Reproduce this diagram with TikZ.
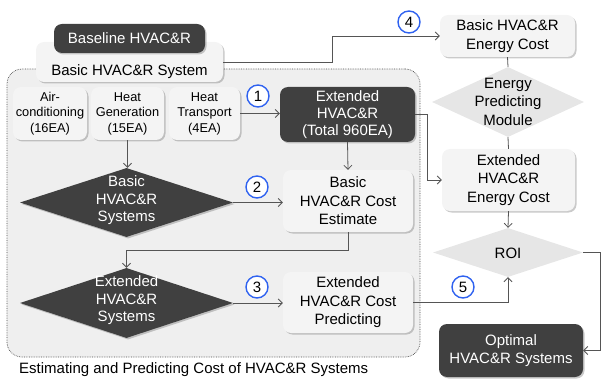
\documentclass[tikz,border=0pt]{standalone}
\usepackage{fontspec}
\setmainfont{Liberation Sans}
\usetikzlibrary{arrows.meta,shapes.geometric,shadows}
\definecolor{darkbox}{HTML}{404040}
\definecolor{lightbox}{HTML}{F4F4F4}
\definecolor{contfill}{HTML}{EFEFEF}
\definecolor{diamlight}{HTML}{E6E6E6}
\definecolor{linec}{HTML}{555555}
\definecolor{numblue}{HTML}{2F62F0}
\newcommand{\mainf}{\fontsize{15}{18.5}\selectfont}
\newcommand{\smallf}{\fontsize{12.8}{15.5}\selectfont}
\tikzset{
  shade/.style={drop shadow={shadow xshift=1.5pt,shadow yshift=-1.5pt,opacity=0.35,fill=black!60}},
  lbox/.style={rectangle,rounded corners=8pt,fill=lightbox,shade,inner sep=0pt,align=center,font=\mainf},
  dbox/.style={rectangle,rounded corners=8pt,fill=darkbox,shade,inner sep=0pt,align=center,text=white,font=\mainf},
  ddiam/.style={diamond,fill=darkbox,shade,inner sep=0pt},
  ldiam/.style={diamond,fill=diamlight,inner sep=0pt},
  conn/.style={draw=linec,line width=0.8pt},
  arr/.style={conn,-{Straight Barb[length=4pt,width=8pt]}},
  numc/.style={circle,draw=numblue,line width=1.4pt,fill=white,minimum size=22pt,inner sep=0pt,font=\mainf},
}
\begin{document}
\begin{tikzpicture}[x=1pt,y=-1pt]
\useasboundingbox (0,0) rectangle (602,382);
% container
\node[draw=black!70,densely dotted,line width=0.7pt,fill=contfill,rounded corners=15pt,minimum width=413pt,minimum height=288pt,inner sep=0pt] (cont) at (213.5,213) {};
% top boxes
\node[lbox,minimum width=187pt,minimum height=40pt] (sys) at (129.5,62) {};
\node[font=\mainf] (systxt) at (129.5,71.5) {Basic HVAC\&R\ System};
\node[dbox,minimum width=151pt,minimum height=29pt] (base) at (129.5,38.5) {Baseline HVAC\&R};
% small boxes
\node[lbox,font=\smallf,minimum width=74pt,minimum height=53pt] (ac) at (50,113.5) {Air-\\conditioning\\(16EA)};
\node[lbox,font=\smallf,minimum width=73pt,minimum height=53pt] (hg) at (127.5,113.5) {Heat\\Generation\\(15EA)};
\node[lbox,font=\smallf,minimum width=71pt,minimum height=53pt] (ht) at (204.5,113.5) {Heat\\Transport\\(4EA)};
% extended
\node[dbox,font=\fontsize{15}{17}\selectfont,minimum width=135pt,minimum height=55pt] (ext) at (347.5,114.5) {Extended\\HVAC\&R\\(Total 960EA)};
\node[lbox,minimum width=130pt,minimum height=62pt] (bce) at (348,201) {Basic\\HVAC\&R\ Cost\\Estimate};
\node[lbox,minimum width=130pt,minimum height=61pt] (ecp) at (348,302.5) {Extended\\HVAC\&R\ Cost\\Predicting};
% diamonds left
\node[ddiam,minimum width=213pt,minimum height=69pt] (bd) at (126.5,202.5) {};
\node[align=center,text=white,font=\fontsize{15}{17.5}\selectfont] (bdtxt) at (126.5,200.5) {Basic\\HVAC\&R\\Systems};
\node[ddiam,minimum width=213pt,minimum height=70pt] (ed) at (126.5,303) {};
\node[align=center,text=white,font=\fontsize{15}{17.5}\selectfont] (edtxt) at (126.5,300.5) {Extended\\HVAC\&R\\Systems};
% right column
\node[lbox,minimum width=135pt,minimum height=42pt] (bec) at (507.5,36) {Basic HVAC\&R\\Energy Cost};
\node[ldiam,minimum width=152pt,minimum height=70pt] (epm) at (508,102) {};
\node[align=center,font=\mainf] (epmtxt) at (508,101.5) {Energy\\Predicting\\Module};
\node[lbox,minimum width=133pt,minimum height=62pt] (eec) at (508.5,180) {Extended\\HVAC\&R\\Energy Cost};
\node[ldiam,minimum width=150pt,minimum height=49pt] (roi) at (508,252.5) {};
\node[font=\mainf] (roitxt) at (508,253) {ROI};
\node[dbox,minimum width=144pt,minimum height=53pt] (opt) at (511,350.5) {Optimal\\HVAC\&R\ Systems};
% caption
\node[anchor=west,font=\mainf,inner sep=0pt] (cap) at (19,370) {Estimating and Predicting Cost of HVAC\&R Systems};
% connectors
\draw[arr] (ht.east) -- (ht.east -| ext.west);
\draw[arr] (sys.east) -- ++(109,0) |- (bec.west);
\draw[conn] (bec.south) -- (epm.north);
\draw[conn] (epm.south) -- (eec.north);
\draw[arr] (ext.east) -- ++(12,0) |- (eec.west);
\draw[arr] (eec.south) -- (roi.north);
\draw[arr] (roi.east) -- ++(17,0) |- (opt.east);
\draw[arr] (ecp.east) -| (roi.south);
\draw[arr] (hg.south) -- (hg.south |- bd.north);
\draw[arr] (bd.east) -- (bd.east -| bce.west);
\draw[arr] (ext.south) -- (bce.north);
\draw[arr] (bce.south) -- ++(0,18) -| (ed.north);
\draw[arr] (ed.east) -- (ed.east -| ecp.west);
% number circles
\node[numc] (n1) at (258,96) {1};
\node[numc] (n2) at (257,187) {2};
\node[numc] (n3) at (257,287) {3};
\node[numc] (n4) at (409,22) {4};
\node[numc] (n5) at (463,287) {5};
\end{tikzpicture}
\end{document}
